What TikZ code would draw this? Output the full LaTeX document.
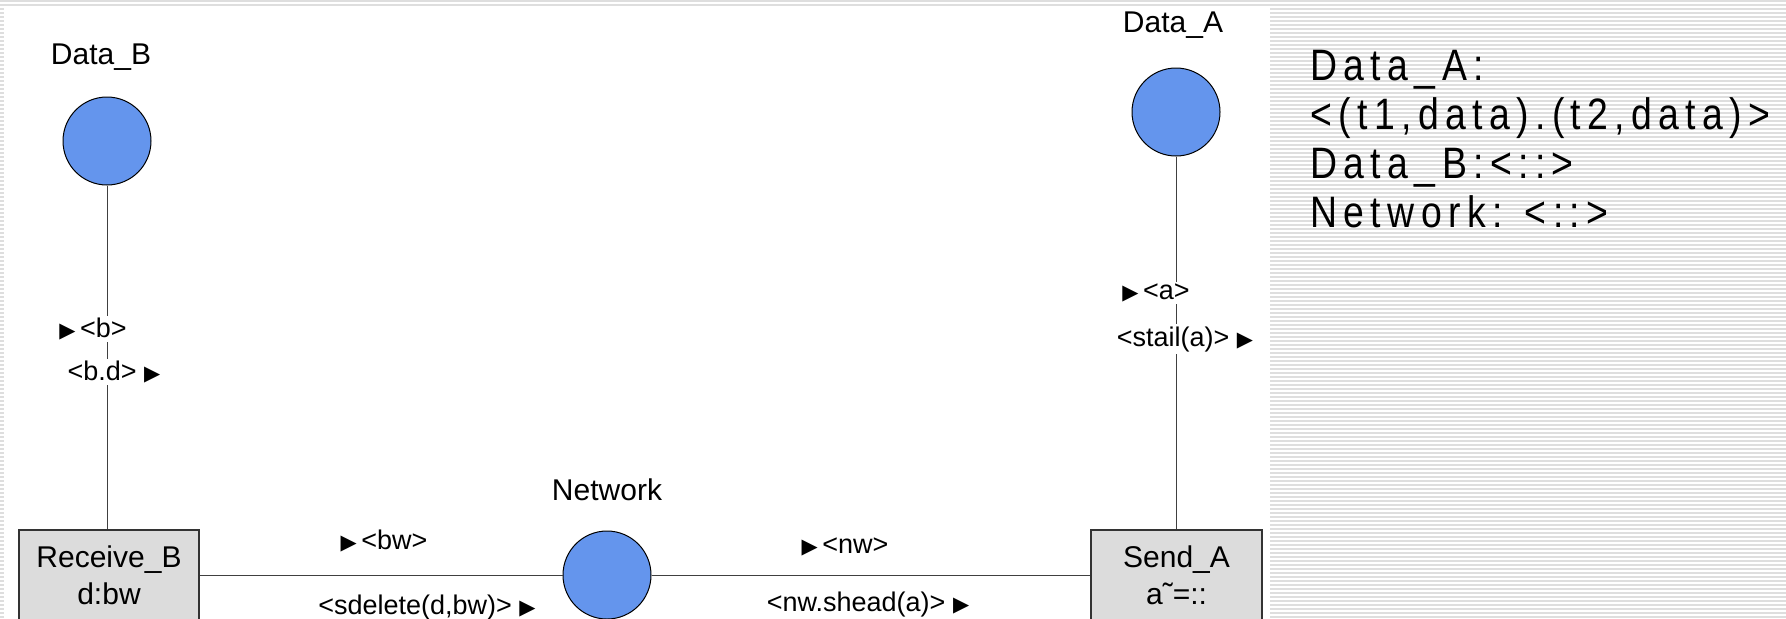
\documentclass[tikz,border=0pt]{standalone}
\usepackage{fontspec}
\setmainfont{Liberation Sans}
\newfontfamily\symfont{DejaVu Sans}
\newfontfamily\markfont[FakeStretch=0.85, LetterSpace=14.5]{Liberation Sans}
\usetikzlibrary{positioning}
\definecolor{placeblue}{RGB}{100,149,237}
\definecolor{transgray}{RGB}{220,220,220}
\definecolor{stripegray}{RGB}{222,222,222}
\newcommand{\tri}{{\symfont\fontsize{10.5}{10}\selectfont ▶}}
\tikzset{
place/.style={circle, draw=black, fill=placeblue, minimum size=44pt, inner sep=0pt, line width=0.5pt},
transition/.style={rectangle, draw=black!80, fill=transgray, minimum width=90pt, minimum height=45pt,
  align=center, font=\fontsize{15}{18.5}\selectfont, line width=0.7pt},
placename/.style={font=\fontsize{15}{18}\selectfont},
netarc/.style={draw=black!75, line width=0.5pt},
inscr/.style={font=\fontsize{13.5}{16}\selectfont, inner sep=1pt},
}

\begin{document}
\begin{tikzpicture}[x=0.5pt, y=-0.5pt]
    \useasboundingbox (0,0) rectangle (1786,618);
    \clip (0,0) rectangle (1786,618);
    % striped slide background
    \foreach \y in {1,5,...,617}
        \draw[stripegray, line width=0.6pt] (0,\y) -- (1786,\y);
    \fill[white] (4,6) rectangle (1270,618);

    % places and transitions
    \node[place] (DataB) at (107,141) {};
    \node[placename] (DataBname) at (101,57) {Data\_B};
    \node[place] (DataA) at (1176,112) {};
    \node[placename] (DataAname) at (1173,25) {Data\_A};
    \node[place] (Net) at (607,575) {};
    \node[placename] (Netname) at (607,490) {Network};
    \node[transition] (RecvB) at (109,575) {Receive\_B\\d:bw};
    \node[transition, minimum width=85.5pt] (SendA) at (1176.5,575) {Send\_A\\a˜=::};

    % arcs
    \draw[netarc] (DataB) -- (DataB |- RecvB.north);
    \draw[netarc] (DataA) -- (DataA |- SendA.north);
    \draw[netarc] (RecvB) -- (Net) -- (SendA);

    % arc inscriptions
    \node[inscr, fill=white] (inB) at (93,329) {\tri\,<b>};
    \node[inscr, fill=white] (outB) at (114,372) {<b.d> \tri};
    \node[inscr] (inBW) at (384,541) {\tri\,<bw>};
    \node[inscr] (outBW) at (427,607) {<sdelete(d,bw)> \tri};
    \node[inscr] (inNW) at (845,547) {\tri\,<nw>};
    \node[inscr] (outNW) at (868,604) {<nw.shead(a)> \tri};
    \node[inscr, fill=white] (inA) at (1156,293) {\tri\,<a>};
    \node[inscr, fill=white] (outA) at (1185,339) {<stail(a)> \tri};

    % initial marking
    \node[anchor=north west, align=left, inner sep=0pt,
          font=\markfont\fontsize{22}{24.5}\selectfont] (marking) at (1310,50)
        {Data\_A:\\<(t1,data).(t2,data)>\\Data\_B:<::>\\Network: <::>};
\end{tikzpicture}
\end{document}
